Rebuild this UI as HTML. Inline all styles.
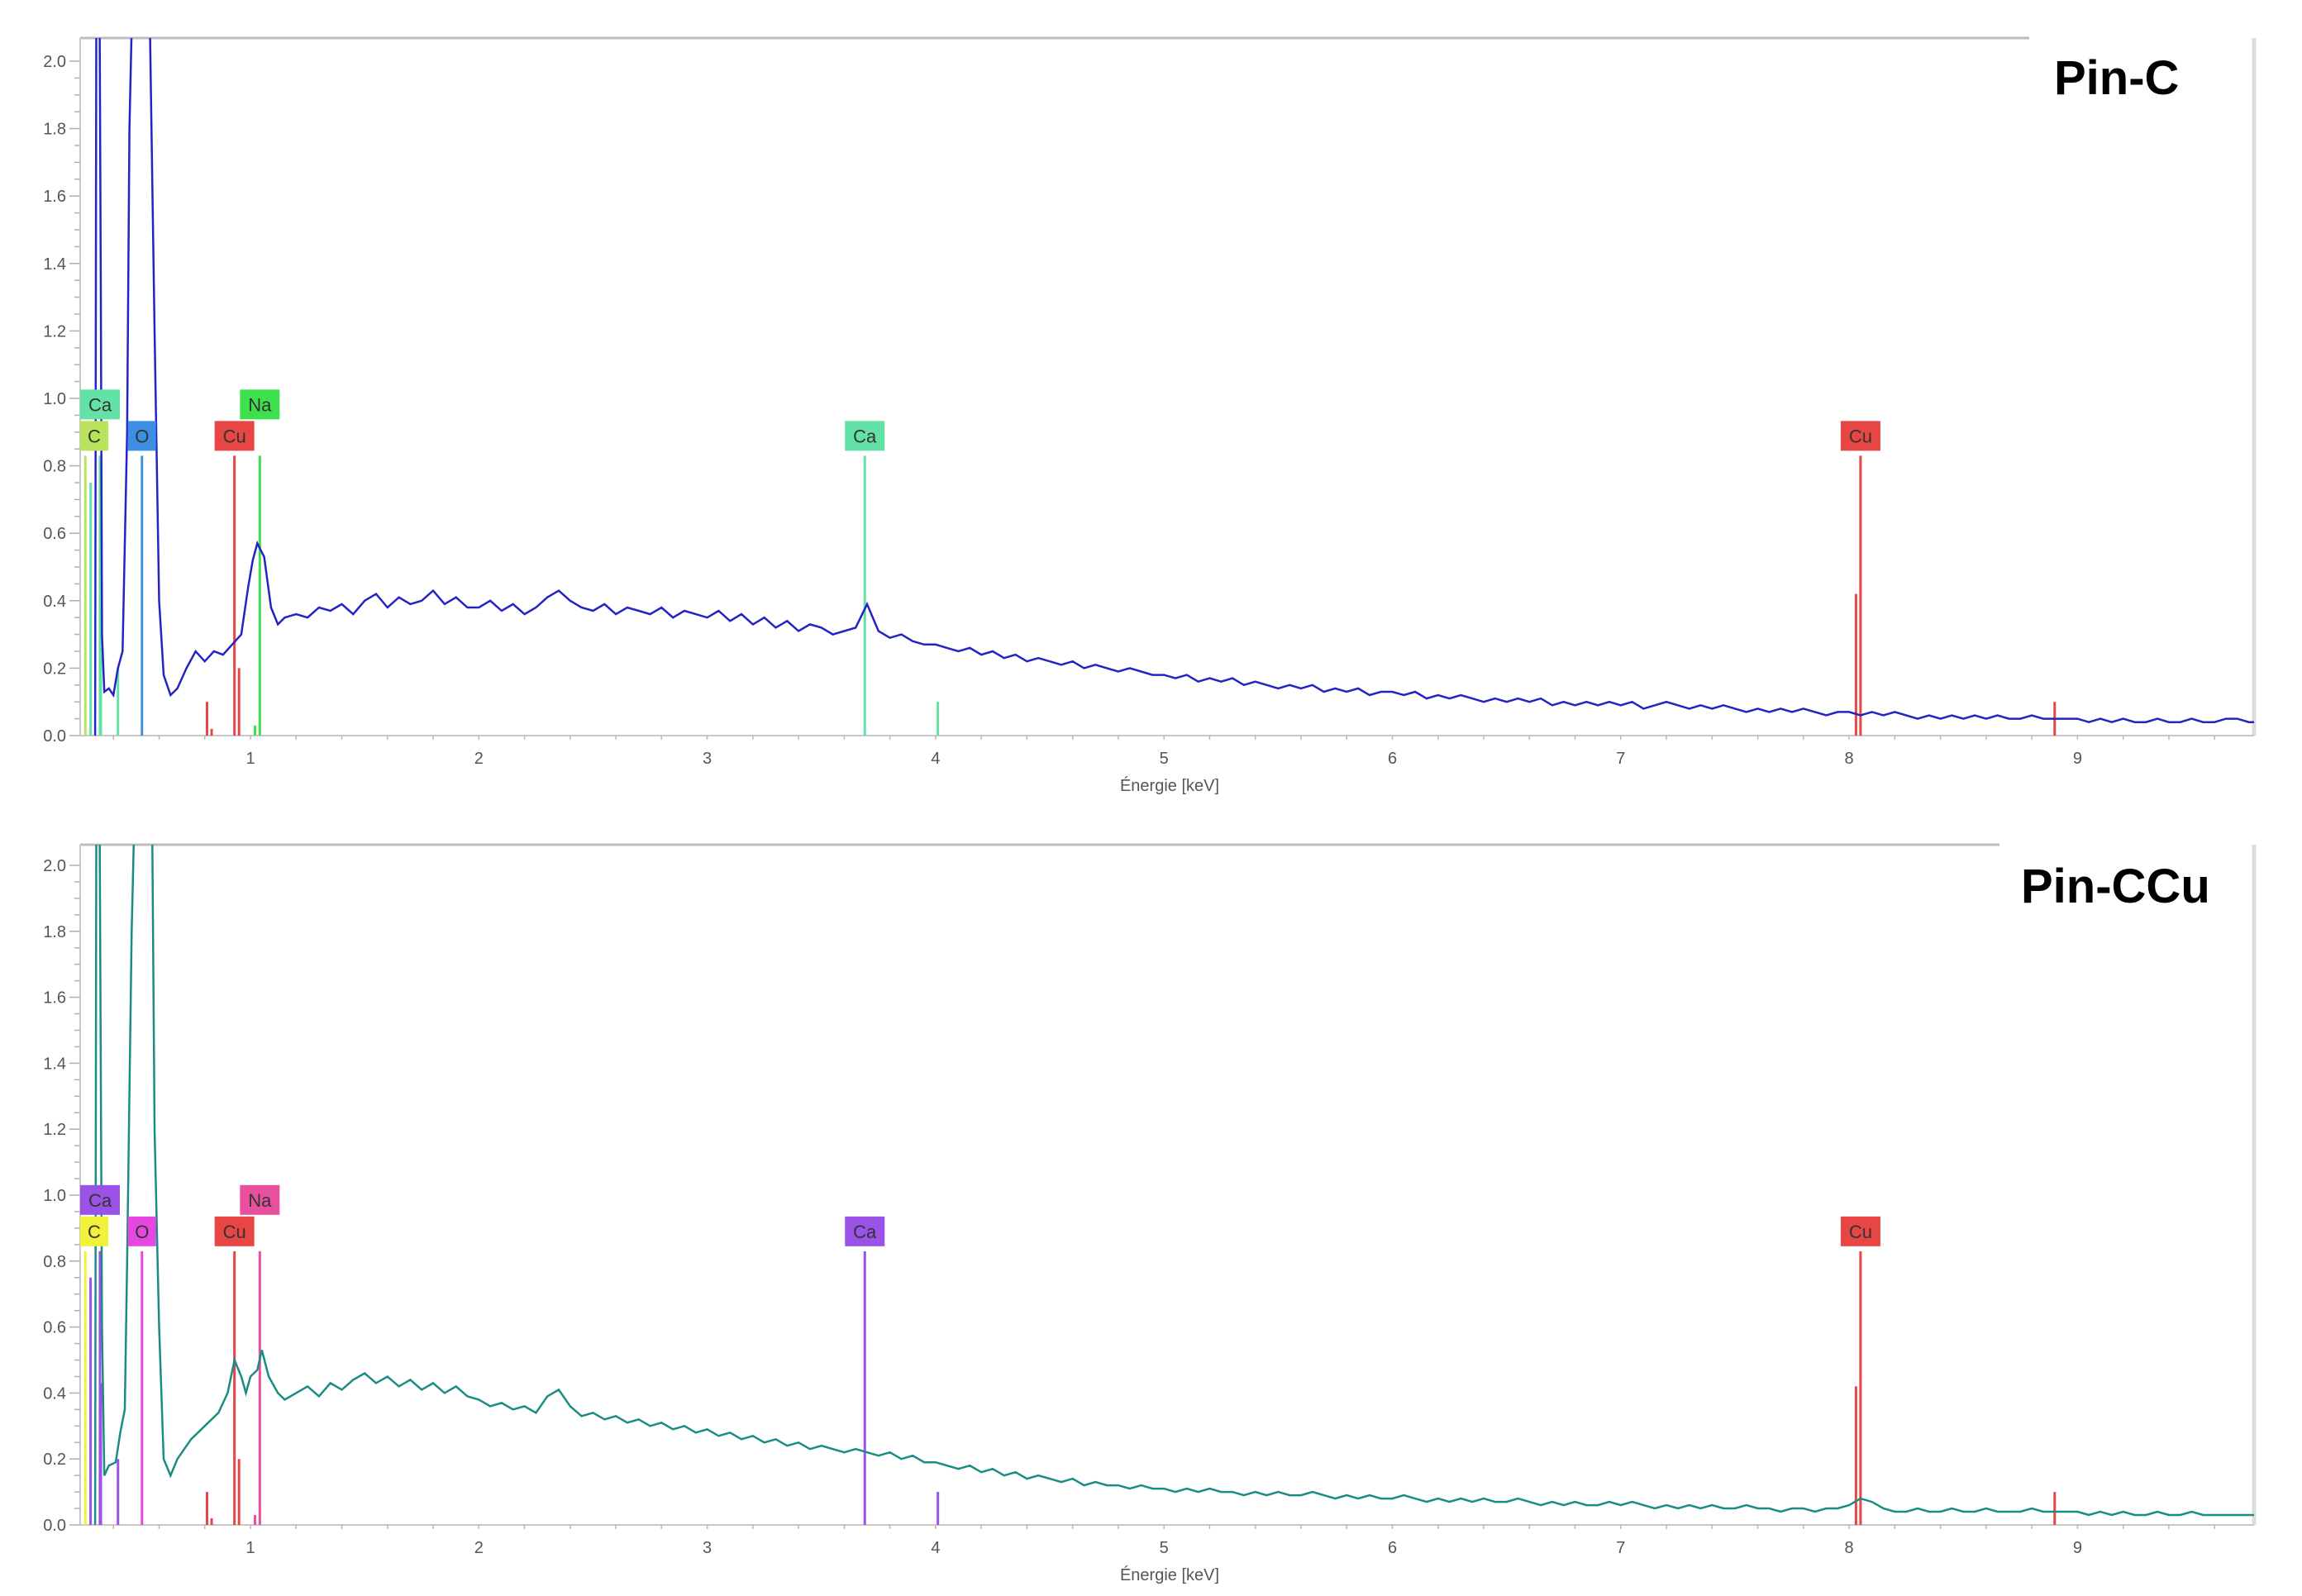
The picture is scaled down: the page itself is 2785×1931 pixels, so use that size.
<!DOCTYPE html>
<html><head><meta charset="utf-8"><style>
html,body{margin:0;padding:0;background:#fff;}
svg{display:block;font-family:"Liberation Sans",sans-serif;}
</style></head><body>
<svg id="chart" width="2785" height="1931" viewBox="0 0 2785 1931" xmlns="http://www.w3.org/2000/svg"></svg>
<script>
// ---------- data ----------
const yTicks = [0.0,0.2,0.4,0.6,0.8,1.0,1.2,1.4,1.6,1.8,2.0];
const xTicks = [1,2,3,4,5,6,7,8,9];
// Pin-C low-energy region (keV, counts)
const lowKevC = [0.32,0.325,0.34,0.345,0.35,0.36,0.38,0.40,0.42,0.44,0.46,0.47,0.48,0.56,0.58,0.60,0.62,0.65,0.68,0.72,0.76,0.8,0.84,0.88,0.92,0.96,0.99,1.01,1.03,1.06,1.09,1.12,1.15];
const lowValC = [0,2.1,2.1,1.3,0.3,0.13,0.14,0.12,0.2,0.25,0.9,1.8,2.1,2.1,1.2,0.4,0.18,0.12,0.14,0.2,0.25,0.22,0.25,0.24,0.27,0.3,0.44,0.52,0.57,0.53,0.38,0.33,0.35];
// Pin-C from 1.2 keV, step 0.05
const valC = [.36,.35,.38,.37,.39,.36,.40,.42,.38,.41,.39,.40,.43,.39,.41,.38,
.38,.40,.37,.39,.36,.38,.41,.43,.40,.38,.37,.39,.36,.38,.37,.36,.38,.35,.37,.36,
.35,.37,.34,.36,.33,.35,.32,.34,.31,.33,.32,.30,.31,.32,.39,.31,.29,.30,.28,.27,
.27,.26,.25,.26,.24,.25,.23,.24,.22,.23,.22,.21,.22,.20,.21,.20,.19,.20,.19,.18,
.18,.17,.18,.16,.17,.16,.17,.15,.16,.15,.14,.15,.14,.15,.13,.14,.13,.14,.12,.13,
.13,.12,.13,.11,.12,.11,.12,.11,.10,.11,.10,.11,.10,.11,.09,.10,.09,.10,.09,.10,
.09,.10,.08,.09,.10,.09,.08,.09,.08,.09,.08,.07,.08,.07,.08,.07,.08,.07,.06,.07,
.07,.06,.07,.06,.07,.06,.05,.06,.05,.06,.05,.06,.05,.06,.05,.05,.06,.05,.05,.05,
.05,.04,.05,.04,.05,.04,.04,.05,.04,.04,.05,.04,.04,.05,.05,.04,.04];
// Pin-CCu
const lowKevCu = [0.32,0.325,0.34,0.35,0.36,0.38,0.41,0.43,0.45,0.46,0.48,0.49,0.57,0.58,0.60,0.62,0.65,0.68,0.74,0.8,0.86,0.9,0.93,0.96,0.98,1.0,1.03,1.05,1.08,1.12,1.15];
const lowValCu = [0,2.1,2.1,0.6,0.15,0.18,0.19,0.28,0.35,0.8,1.8,2.1,2.1,1.2,0.6,0.2,0.15,0.2,0.26,0.3,0.34,0.4,0.5,0.45,0.40,0.45,0.47,0.53,0.45,0.40,0.38];
const valCu = [.40,.42,.39,.43,.41,.44,.46,.43,.45,.42,.44,.41,.43,.40,.42,.39,
.38,.36,.37,.35,.36,.34,.39,.41,.36,.33,.34,.32,.33,.31,.32,.30,.31,.29,.30,.28,
.29,.27,.28,.26,.27,.25,.26,.24,.25,.23,.24,.23,.22,.23,.22,.21,.22,.20,.21,.19,
.19,.18,.17,.18,.16,.17,.15,.16,.14,.15,.14,.13,.14,.12,.13,.12,.12,.11,.12,.11,
.11,.10,.11,.10,.11,.10,.10,.09,.10,.09,.10,.09,.09,.10,.09,.08,.09,.08,.09,.08,
.08,.09,.08,.07,.08,.07,.08,.07,.08,.07,.07,.08,.07,.06,.07,.06,.07,.06,.06,.07,
.06,.07,.06,.05,.06,.05,.06,.05,.06,.05,.05,.06,.05,.05,.04,.05,.05,.04,.05,.05,
.06,.08,.07,.05,.04,.04,.05,.04,.04,.05,.04,.04,.05,.04,.04,.04,.05,.04,.04,.04,
.04,.03,.04,.03,.04,.03,.03,.04,.03,.03,.04,.03,.03,.03,.03,.03,.03];
// element marker lines
const markerKev = [0.277,0.30,0.341,0.345,0.42,0.525,0.81,0.83,0.93,0.95,1.02,1.041,3.69,4.01,8.03,8.05,8.9];
const markerHeight = [0.83,0.75,0.83,0.43,0.2,0.83,0.1,0.02,0.83,0.2,0.03,0.83,0.83,0.1,0.42,0.83,0.1];
const markerElem = ["C","Ca","Ca","Ca","Ca","O","Cu","Cu","Cu","Cu","Na","Na","Ca","Ca","Cu","Cu","Cu"];
// element tags
const tagElem = ["Ca","C","O","Cu","Na","Ca","Cu"];
const tagKev = [0.341,0.277,0.525,0.93,1.041,3.69,8.05];
const tagRow = [1,0,0,0,1,0,0];

// ---------- drawing ----------
const NS="http://www.w3.org/2000/svg";
const svg=document.getElementById('chart');
function mk(tag,attrs,parent){const e=document.createElementNS(NS,tag);for(const k in attrs)e.setAttribute(k,attrs[k]);(parent||svg).appendChild(e);return e;}
const PL=97, PR=2727;
const xs=e=>26.7+276.3*e;

const panels=[
 {name:'pin-c',top:46,y0:890,unit:408,topEnd:2455,line:'#2424c4',label:'Pin-C',lx:2485,ly:114,
  lk:lowKevC,lv:lowValC,v:valC,
  colors:{C:'#b9e35a',Ca:'#62e2a4',O:'#3d8fe3',Na:'#3fe04e',Cu:'#e84545'}},
 {name:'pin-ccu',top:1022,y0:1845,unit:399,topEnd:2419,line:'#1b8c84',label:'Pin-CCu',lx:2445,ly:1092,
  lk:lowKevCu,lv:lowValCu,v:valCu,
  colors:{C:'#f2f23a',Ca:'#9b52e6',O:'#e547e0',Na:'#e8509e',Cu:'#e84545'}}
];

panels.forEach((p,pi)=>{
  const g=mk('g',{});
  
  
  const ys=v=>p.y0-v*p.unit;
  const cid='clip'+pi;
  const cp=mk('clipPath',{id:cid},g);
  mk('rect',{x:PL,y:p.top,width:PR-PL,height:p.y0-p.top},cp);
  const tb=mk('line',{x1:PL,y1:p.top,x2:p.topEnd,y2:p.top,stroke:'#bdbdbd','stroke-width':3},g);
  
  const rb=mk('line',{x1:PR,y1:p.top,x2:PR,y2:p.y0,stroke:'#dcdcdc','stroke-width':5},g);
  
  const la=mk('line',{x1:PL,y1:p.top,x2:PL,y2:p.y0,stroke:'#c8c8c8','stroke-width':2},g);
  
  const ba=mk('line',{x1:PL,y1:p.y0,x2:PR,y2:p.y0,stroke:'#c8c8c8','stroke-width':2},g);
  
  for(let v=0;v<=2.0001;v+=0.05){
    const major=Math.abs(v*5-Math.round(v*5))<1e-6;
    mk('line',{x1:major?84:90,y1:ys(v),x2:PL,y2:ys(v),stroke:'#b0b0b0','stroke-width':1.5},g);
  }
  yTicks.forEach(t=>{
    const tx=mk('text',{x:80,y:ys(t)+7,'text-anchor':'end','font-size':20,fill:'#555'},g);
    tx.textContent=t.toFixed(1);
    
    
  });
  for(let e=0.4;e<9.75;e+=0.2){
    mk('line',{x1:xs(e),y1:p.y0,x2:xs(e),y2:p.y0+5,stroke:'#b8b8b8','stroke-width':1.5},g);
  }
  xTicks.forEach(t=>{
    const tx=mk('text',{x:xs(t),y:p.y0+34,'text-anchor':'middle','font-size':20,fill:'#555'},g);
    tx.textContent=String(t);
    
    
  });
  const xt=mk('text',{x:1415,y:p.y0+67,'text-anchor':'middle','font-size':20,fill:'#555'},g);
  xt.textContent='Énergie [keV]';
  
  
  markerKev.forEach((k,i)=>{
    const ln=mk('line',{x1:xs(k),y1:p.y0,x2:xs(k),y2:ys(markerHeight[i]),stroke:p.colors[markerElem[i]],'stroke-width':3},g);
    
    
  });
  let pts=[];
  p.lk.forEach((k,i)=>pts.push(xs(k).toFixed(1)+','+ys(p.lv[i]).toFixed(1)));
  p.v.forEach((v,i)=>pts.push(xs(1.2+i*0.05).toFixed(1)+','+ys(v).toFixed(1)));
  const sp=mk('polyline',{points:pts.join(' '),fill:'none',stroke:p.line,'stroke-width':2.5,'clip-path':'url(#'+cid+')'},g);
  
  
  tagElem.forEach((el,i)=>{
    const w=el.length*14+20;
    let cx=xs(tagKev[i]);
    let x=cx-w/2; if(x<PL) x=PL;
    const y=tagRow[i]? p.y0-0.83*p.unit-80 : p.y0-0.83*p.unit-42;
    const tg=mk('g',{},g);
    
    
    mk('rect',{x:x,y:y,width:w,height:36,fill:p.colors[el]},tg);
    const t=mk('text',{x:x+w/2,y:y+26,'text-anchor':'middle','font-size':22,fill:'#333'},tg);
    t.textContent=el;
  });
  const lb=mk('text',{x:p.lx,y:p.ly,'font-size':58,'font-weight':'bold',fill:'#000'},g);
  lb.textContent=p.label;
  
  
});
</script>
</body></html>
